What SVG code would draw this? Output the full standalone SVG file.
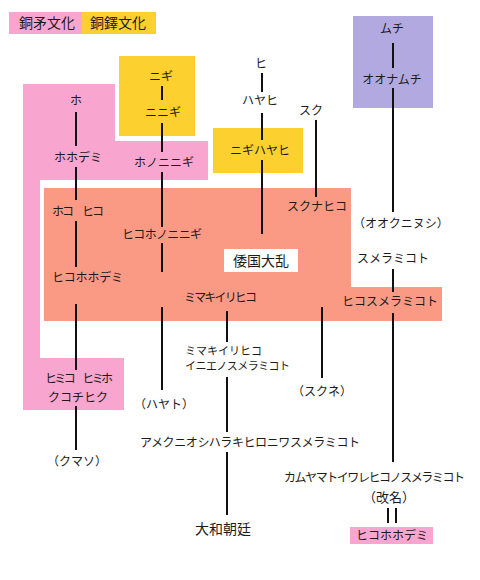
<svg xmlns="http://www.w3.org/2000/svg" width="480" height="580" viewBox="0 0 480 580">
<style>
text{font-family:"Noto Sans CJK JP","Noto Sans",sans-serif;font-size:12px;fill:#1e1a1a;text-anchor:middle}
.big{font-size:14px}
.sm{font-size:11px}
.l{text-anchor:start}
.pink{fill:#f8a6cf}
.yellow{fill:#fcd12f}
.salmon{fill:#fa9a84}
.purple{fill:#b1a9df}
#connectors line{stroke:#111;stroke-width:2}
</style>
<rect width="480" height="580" fill="#fff"/>
<g id="regions">
<polygon class="pink" points="23,84 115,84 115,141 208,141 208,180 40,180 40,358 124,358 124,410 23,410"/>
<rect class="yellow" x="119" y="56" width="76" height="80"/>
<rect class="yellow" x="213" y="128" width="90" height="45"/>
<polygon class="salmon" points="44,188 351,188 351,287 442,287 442,321 44,321"/>
<rect class="purple" x="353" y="16" width="80" height="92"/>
</g>
<g id="legend">
<rect class="pink" x="9" y="12" width="73" height="22"/>
<rect class="yellow" x="82" y="12" width="74" height="22"/>
<text class="big" x="47" y="28">銅矛文化</text>
<text class="big" x="118" y="28">銅鐸文化</text>
</g>
<g id="connectors">
<line x1="76" y1="112" x2="76" y2="146"/>
<line x1="76" y1="167" x2="76" y2="200"/>
<line x1="76" y1="221" x2="76" y2="267"/>
<line x1="76" y1="304" x2="76" y2="370"/>
<line x1="76" y1="406" x2="76" y2="450"/>
<line x1="162" y1="86" x2="162" y2="100"/>
<line x1="162" y1="123" x2="162" y2="152"/>
<line x1="162" y1="172" x2="162" y2="227"/>
<line x1="162" y1="243" x2="162" y2="272"/>
<line x1="162" y1="307" x2="162" y2="390"/>
<line x1="262" y1="73" x2="262" y2="92"/>
<line x1="262" y1="113" x2="262" y2="140"/>
<line x1="262" y1="160" x2="262" y2="234"/>
<line x1="316" y1="120" x2="316" y2="197"/>
<line x1="393" y1="43" x2="393" y2="68"/>
<line x1="393" y1="88" x2="393" y2="212"/>
<line x1="393" y1="269" x2="393" y2="292"/>
<line x1="393" y1="313" x2="393" y2="462"/>
<line x1="322" y1="307" x2="322" y2="378"/>
<line x1="227" y1="311" x2="227" y2="342"/>
<line x1="227" y1="377" x2="227" y2="432"/>
<line x1="227" y1="452" x2="227" y2="515"/>
<line x1="388" y1="508" x2="388" y2="523"/>
<line x1="396" y1="508" x2="396" y2="523"/>
</g>
<g id="n-ho"><text x="76" y="105">ホ</text></g>
<g id="n-hohodemi"><text x="78" y="162">ホホデミ</text></g>
<g id="n-nigi"><text x="161" y="81">ニギ</text></g>
<g id="n-ninigi"><text x="163" y="117">ニニギ</text></g>
<g id="n-hononinigi"><text x="164" y="167">ホノニニギ</text></g>
<g id="n-hi"><text x="261" y="68">ヒ</text></g>
<g id="n-hayahi"><text x="260" y="105">ハヤヒ</text></g>
<g id="n-suku"><text x="311" y="115">スク</text></g>
<g id="n-nigihayahi"><text x="260" y="155">ニギハヤヒ</text></g>
<g id="n-muchi"><text x="392" y="33">ムチ</text></g>
<g id="n-oonamuchi"><text x="392" y="84">オオナムチ</text></g>
<g id="n-sukunahiko"><text x="317" y="211">スクナヒコ</text></g>
<g id="n-ookuninushi"><text x="401" y="228">（オオクニヌシ）</text></g>
<g id="n-sumeramikoto"><text x="393" y="263">スメラミコト</text></g>
<g id="n-hikosumeramikoto"><text x="390" y="306">ヒコスメラミコト</text></g>
<g id="n-wakokutairan"><rect x="224" y="249" width="74" height="23" fill="#fff"/><text class="big" x="261" y="266">倭国大乱</text></g>
<g id="n-hoko-hiko"><text class="l" x="52" y="216" textLength="52">ホコ　ヒコ</text></g>
<g id="n-hikohoninigi"><text x="162" y="239" textLength="80">ヒコホノニニギ</text></g>
<g id="n-hikohohodemi"><text class="l" x="52" y="282" textLength="71">ヒコホホデミ</text></g>
<g id="n-mimakiirihiko"><text class="l" x="184" y="302" textLength="73">ミマキイリヒコ</text></g>
<g id="n-mimaki-inie"><text class="l sm" x="185" y="355" textLength="77">ミマキイリヒコ</text><text class="l sm" x="185" y="370" textLength="105">イニエノスメラミコト</text></g>
<g id="n-hayato"><text x="164" y="409">（ハヤト）</text></g>
<g id="n-sukune"><text x="322" y="396">（スクネ）</text></g>
<g id="n-himiko"><text x="79" y="383" textLength="68">ヒミコ　ヒミホ</text><text x="78" y="402">クコチヒク</text></g>
<g id="n-kumaso"><text x="77" y="466">（クマソ）</text></g>
<g id="n-amekuni"><text class="l" x="140" y="447" textLength="220">アメクニオシハラキヒロニワスメラミコト</text></g>
<g id="n-kamuyamato"><text class="l" x="284" y="482" textLength="181">カムヤマトイワレヒコノスメラミコト</text><text x="389" y="502" style="font-size:13px">（改名）</text></g>
<g id="n-yamato"><text class="big" x="223" y="534">大和朝廷</text></g>
<g id="n-hikohohodemi2"><rect class="pink" x="350" y="527" width="83" height="17"/><text x="392" y="540">ヒコホホデミ</text></g>
</svg>
